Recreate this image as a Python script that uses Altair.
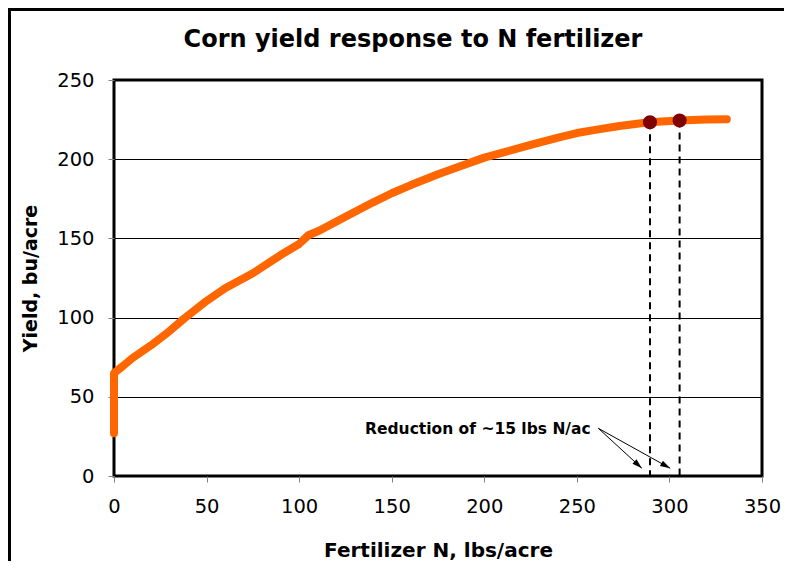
import math
import altair as alt
import pandas as pd

# ---- data ----
curve_n = [0, 0, 5, 10, 20, 30, 38, 50, 60, 75, 90, 100, 105, 111, 125, 140,
           150, 160, 175, 187, 200, 225, 241, 250, 260, 273, 289, 305, 320, 331]
curve_y = [27, 65, 69.6, 74.5, 82.5, 91.5, 99.5, 110.5, 118.5, 128, 139.5, 146.5,
           152, 155, 163.7, 172.8, 178.5, 183.5, 190.5, 195.5, 201, 209, 214,
           216.5, 218.5, 221, 223.3, 224.5, 225, 225.2]
marker_n = [289.5, 305.5]
marker_y = [223.3, 224.4]
note_text = ["Reduction of ~15 lbs N/ac"]
note_n = [135.6]
note_y = [26.5]
arrow_start_n = [261.6, 261.6]
arrow_start_y = [30.1, 30.1]
arrow_end_n = [285.1, 300.4]
arrow_end_y = [4.9, 4.9]
x_ticks = [0, 50, 100, 150, 200, 250, 300, 350]
y_ticks = [0, 50, 100, 150, 200, 250]
title_text = ["Corn yield response to N fertilizer"]

W, H = 648, 396
X_MAX, Y_MAX = 350, 250
FONT = "DejaVu Sans"

curve_df = pd.DataFrame({"N": curve_n, "Yield": curve_y, "order": list(range(len(curve_n)))})
marker_df = pd.DataFrame({"N": marker_n, "Yield": marker_y, "base": [0, 0]})
note_df = pd.DataFrame({"N": note_n, "Yield": note_y, "label": note_text})

kx, ky = W / X_MAX, H / Y_MAX
angles = []
for x1, y1, x2, y2 in zip(arrow_start_n, arrow_start_y, arrow_end_n, arrow_end_y):
    dxp = (x2 - x1) * kx
    dyp = -(y2 - y1) * ky
    angles.append(math.degrees(math.atan2(dxp, -dyp)) % 360)
arrow_df = pd.DataFrame({"N": arrow_start_n, "Yield": arrow_start_y,
                         "N2": arrow_end_n, "Y2": arrow_end_y,
                         "angle": angles})
arrow_head_df = pd.DataFrame({"N": arrow_end_n, "Yield": arrow_end_y, "angle": angles})

x_axis = alt.Axis(values=x_ticks, grid=False, domain=False, tickColor="#808080",
                  tickSize=6, tickWidth=1, labelFont=FONT, labelFontSize=19.5,
                  labelColor="black", labelPadding=15, labelFlush=False,
                  title="Fertilizer N, lbs/acre",
                  titleFont=FONT, titleFontSize=20, titleFontWeight="bold",
                  titleColor="black", titleX=W / 2, titleY=74, titleBaseline="middle",
                  titleAlign="center")
y_axis = alt.Axis(values=y_ticks, grid=True, gridColor="black", gridWidth=1,
                  domain=False, tickColor="#808080", tickSize=6, tickWidth=1,
                  labelFont=FONT, labelFontSize=19.5, labelColor="black",
                  labelPadding=14, labelFlush=False, title="Yield, bu/acre",
                  titleFont=FONT, titleFontSize=19, titleFontWeight="bold",
                  titleColor="black", titleX=-84, titleY=H / 2, titleAngle=-90,
                  titleAlign="center", titleBaseline="middle")
x_scale = alt.Scale(domain=[0, X_MAX], nice=False, zero=False)
y_scale = alt.Scale(domain=[0, Y_MAX], nice=False, zero=False)


def X(field="N"):
    return alt.X(f"{field}:Q", scale=x_scale, axis=x_axis)


def Y(field="Yield"):
    return alt.Y(f"{field}:Q", scale=y_scale, axis=y_axis)


curve = alt.Chart(curve_df).mark_line(
    color="#FF6600", strokeWidth=8, strokeCap="round", strokeJoin="round"
).encode(x=X(), y=Y(), order="order:Q")

drops = alt.Chart(marker_df).mark_rule(
    color="black", strokeWidth=2, strokeDash=[7, 5]
).encode(x=X(), y=Y(), y2="base:Q")

markers = alt.Chart(marker_df).mark_point(
    shape="circle", filled=True, color="#800000", opacity=1, size=200
).encode(x=X(), y=Y())

arrows = alt.Chart(arrow_df).mark_rule(color="black", strokeWidth=1).encode(
    x=X(), y=Y(), x2="N2:Q", y2="Y2:Q"
)

heads = alt.Chart(arrow_head_df).mark_point(
    shape="M0,0L-0.3,1L0.3,1Z", filled=True, color="black", opacity=1, size=400
).encode(x=X(), y=Y(), angle=alt.Angle("angle:Q", scale=None))

note = alt.Chart(note_df).mark_text(
    font=FONT, fontSize=15.5, fontWeight="bold", color="black", align="left",
    baseline="alphabetic"
).encode(x=X(), y=Y(), text="label:N")

title = alt.Chart(pd.DataFrame({"t": title_text})).mark_text(
    font=FONT, fontSize=24, fontWeight="bold", color="black", align="center",
    baseline="alphabetic", clip=False
).encode(x=alt.value(299), y=alt.value(-33), text="t:N")

frame = alt.Chart(pd.DataFrame({"k": [0]})).mark_rect(
    fillOpacity=0, stroke="black", strokeWidth=3, clip=False
).encode(x=alt.value(-104.5), x2=alt.value(W + 200), y=alt.value(-70.5),
         y2=alt.value(H + 200))

chart = alt.layer(frame, curve, drops, markers, arrows, heads, note, title).properties(
    width=W, height=H,
    autosize=alt.AutoSizeParams(type="none"),
    padding={"left": 106, "top": 72, "right": 22, "bottom": 85},
).configure(background="white").configure_view(stroke="black", strokeWidth=3)

chart.save("out.html", embed_options={"renderer": "svg", "actions": False})
